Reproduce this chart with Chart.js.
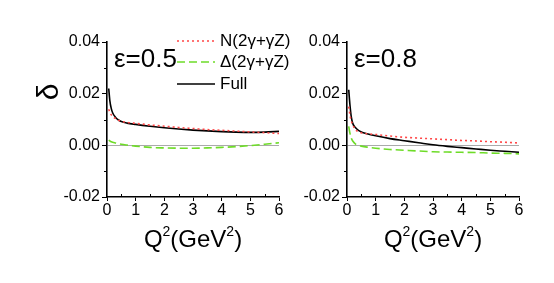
<!DOCTYPE html>
<html>
<head>
<meta charset="utf-8">
<script src="https://cdn.jsdelivr.net/npm/chart.js@4/dist/chart.umd.min.js"></script>
<style>
  body { margin: 0; background: #fff; }
  #wrap { position: relative; width: 554px; height: 283px; overflow: hidden; }
  canvas { position: absolute; top: 0; }
</style>
</head>
<body>
<div id="wrap">
  <canvas id="eps05" width="300" height="283" style="left:0"></canvas>
  <canvas id="eps08" width="264" height="283" style="left:290px"></canvas>
</div>
<script>
// Q^2 values (GeV^2) shared by every curve
const q2 = [0.06, 0.1, 0.15, 0.2, 0.3, 0.4, 0.5, 0.7, 1, 1.5, 2, 2.5, 3, 3.5, 4, 4.5, 5, 5.5, 6];

// eps = 0.5
const fullEps05  = [0.0220, 0.0172, 0.0142, 0.0125, 0.0108, 0.0098, 0.0092, 0.0086, 0.0081, 0.0074, 0.0068, 0.0063, 0.0059, 0.0056, 0.0053, 0.0051, 0.0050, 0.0051, 0.0054];
const nEps05     = [0.0140, 0.0128, 0.0118, 0.0111, 0.0104, 0.0097, 0.0093, 0.0089, 0.0085, 0.0079, 0.0074, 0.0069, 0.0065, 0.0061, 0.0058, 0.0055, 0.0052, 0.0049, 0.0046];
const deltaEps05 = [0.0020, 0.0017, 0.0014, 0.0012, 0.0009, 0.0006, 0.0004, 0.0001, -0.0003, -0.0008, -0.0010, -0.0011, -0.0011, -0.0010, -0.0008, -0.0005, -0.0001, 0.0004, 0.0010];

// eps = 0.8
const fullEps08  = [0.0215, 0.0160, 0.0110, 0.0085, 0.0068, 0.0058, 0.0052, 0.0045, 0.0037, 0.0026, 0.0018, 0.0010, 0.0002, -0.0004, -0.0009, -0.0014, -0.0019, -0.0023, -0.0027];
const nEps08     = [0.0150, 0.0120, 0.0095, 0.0080, 0.0060, 0.0053, 0.0049, 0.0045, 0.0042, 0.0036, 0.0031, 0.0028, 0.0025, 0.0022, 0.0019, 0.0017, 0.0014, 0.0012, 0.0009];
const deltaEps08 = [0.0073, 0.0048, 0.0028, 0.0017, 0.0005, 0.0000, -0.0003, -0.0007, -0.0011, -0.0016, -0.0019, -0.0022, -0.0025, -0.0026, -0.0027, -0.0028, -0.0030, -0.0031, -0.0033];

const legendLabels = ["N(2\u03b3+\u03b3Z)", "\u0394(2\u03b3+\u03b3Z)", "Full"];
const minorX = [0.5, 1.5, 2.5, 3.5, 4.5, 5.5];
const minorY = [0.03, 0.01, -0.01];

const FONT = "'Liberation Sans', Arial, sans-serif";

function pts(ys) {
  return q2.map((x, i) => ({ x: x, y: ys[i] }));
}

const decor = {
  id: 'decor',
  afterDraw(chart, args, opts) {
    const ctx = chart.ctx;
    const xs = chart.scales.x, ys = chart.scales.y;
    const a = chart.chartArea;
    ctx.save();
    // minor ticks
    ctx.strokeStyle = '#000';
    ctx.lineWidth = 1;
    ctx.beginPath();
    minorX.forEach(v => {
      const px = Math.round(xs.getPixelForValue(v)) + 0.5;
      ctx.moveTo(px, a.bottom); ctx.lineTo(px, a.bottom - 3);
    });
    minorY.forEach(v => {
      const py = Math.round(ys.getPixelForValue(v)) + 0.5;
      ctx.moveTo(a.left, py); ctx.lineTo(a.left - 3, py);
    });
    ctx.stroke();

    ctx.fillStyle = '#000';
    // epsilon label
    ctx.font = '26px ' + FONT;
    ctx.textBaseline = 'alphabetic';
    ctx.textAlign = 'left';
    ctx.fillText(opts.eps, a.left + 7, 67);

    // delta axis label
    if (opts.delta) {
      ctx.save();
      ctx.translate(50, 92);
      ctx.rotate(-Math.PI / 2);
      ctx.font = '30px ' + FONT;
      ctx.textAlign = 'center';
      ctx.textBaseline = 'middle';
      ctx.fillText('\u03b4', 0, 0);
      ctx.restore();
    }

    // x axis title with superscripts
    const parts = [['Q', 24, 0], ['2', 14, -11], ['(GeV', 24, 0], ['2', 14, -11], [')', 24, 0]];
    let total = 0;
    parts.forEach(p => { ctx.font = p[1] + 'px ' + FONT; total += ctx.measureText(p[0]).width; });
    let cx = (a.left + a.right) / 2 - total / 2;
    parts.forEach(p => {
      ctx.font = p[1] + 'px ' + FONT;
      ctx.fillText(p[0], cx, 247 + p[2]);
      cx += ctx.measureText(p[0]).width;
    });

    // legend
    if (opts.legend) {
      const rows = [41, 62, 84];
      chart.data.datasets.forEach((ds, i) => {
        ctx.strokeStyle = ds.borderColor;
        ctx.lineWidth = ds.borderWidth;
        ctx.setLineDash(ds.borderDash || []);
        ctx.beginPath();
        ctx.moveTo(177, rows[i]);
        ctx.lineTo(215, rows[i]);
        ctx.stroke();
        ctx.setLineDash([]);
        ctx.font = '17px ' + FONT;
        ctx.textBaseline = 'middle';
        ctx.fillText(legendLabels[i], 220, rows[i]);
      });
    }
    ctx.restore();
  }
};

function makeChart(id, n, d, f, eps, showLegend, rightPad) {
  return new Chart(id, {
    type: 'line',
    data: {
      datasets: [
        { label: legendLabels[0], data: pts(n), borderColor: 'rgb(255,70,70)', borderWidth: 1.6, borderDash: [2, 3], pointRadius: 0, cubicInterpolationMode: 'monotone' },
        { label: legendLabels[1], data: pts(d), borderColor: 'rgb(110,220,40)', borderWidth: 1.6, borderDash: [8, 4], pointRadius: 0, cubicInterpolationMode: 'monotone' },
        { label: legendLabels[2], data: pts(f), borderColor: '#000', borderWidth: 1.6, pointRadius: 0, cubicInterpolationMode: 'monotone' }
      ]
    },
    options: {
      responsive: false,
      animation: false,
      layout: { padding: { left: 0, right: rightPad, top: 42, bottom: 0 } },
      plugins: {
        legend: { display: false },
        tooltip: { enabled: false },
        decor: { eps: eps, legend: showLegend, delta: showLegend }
      },
      scales: {
        x: {
          type: 'linear', min: 0, max: 6,
          afterFit: s => { s.height = 86; },
          ticks: { stepSize: 1, padding: 0, color: '#000', font: { family: FONT, size: 16 }, maxRotation: 0 },
          grid: { drawOnChartArea: false, tickLength: 4, tickColor: '#000' },
          border: { color: '#000', width: 1.6 }
        },
        y: {
          min: -0.02, max: 0.04,
          afterFit: s => { s.width = id === 'eps05' ? 107 : 57; },
          ticks: { stepSize: 0.02, padding: 2, color: '#000', font: { family: FONT, size: 16 },
                   callback: v => v.toFixed(2) },
          grid: {
            tickLength: 5, tickColor: '#000',
            color: c => (c.tick && Math.abs(c.tick.value) < 1e-9) ? '#aaaaaa' : 'rgba(0,0,0,0)'
          },
          border: { color: '#000', width: 1.6 }
        }
      }
    },
    plugins: [decor]
  });
}

makeChart('eps05', nEps05, deltaEps05, fullEps05, '\u03b5=0.5', true, 21);
makeChart('eps08', nEps08, deltaEps08, fullEps08, '\u03b5=0.8', false, 35);
</script>
</body>
</html>
